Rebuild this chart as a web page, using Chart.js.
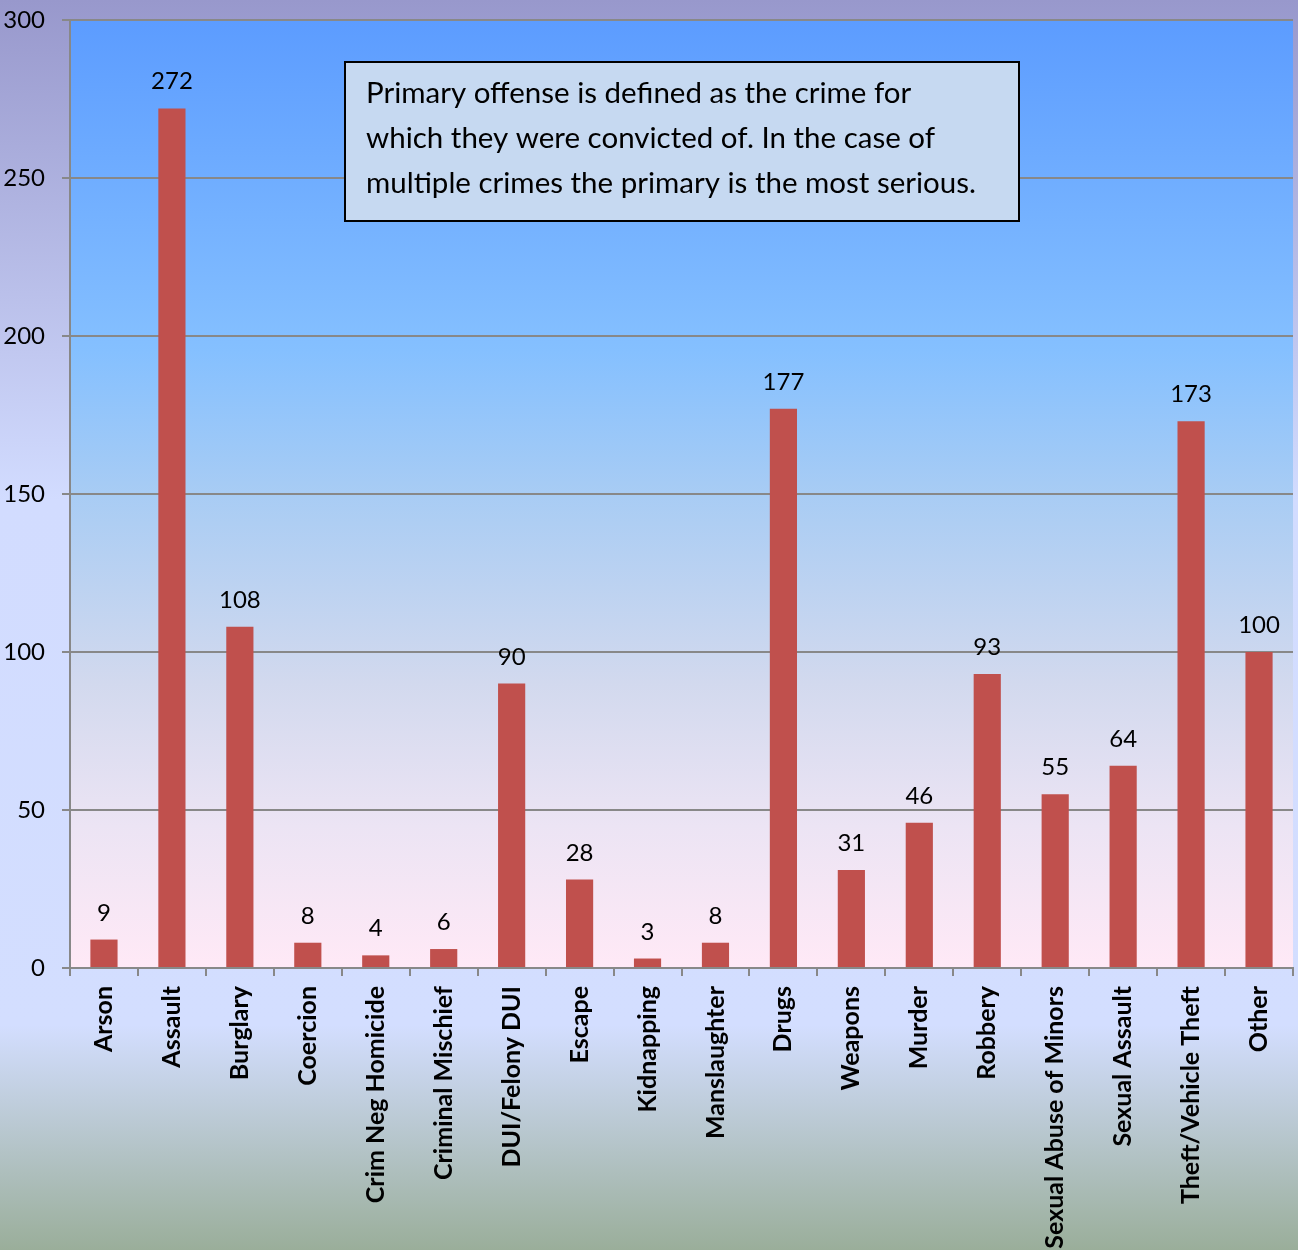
<!DOCTYPE html>
<html lang="en">
<head>
<meta charset="UTF-8">
<title>Primary Offense</title>
<script src="https://cdn.jsdelivr.net/npm/chart.js"></script>
<style>
    html, body { margin: 0; padding: 0; }
    #wrap { width: 1298px; height: 1250px; position: relative; }
</style>
</head>
<body>
<div id="wrap"><canvas id="offenseChart"></canvas></div>
<script>
    // data
    const offenses = ['Arson', 'Assault', 'Burglary', 'Coercion', 'Crim Neg Homicide', 'Criminal Mischief',
        'DUI/Felony DUI', 'Escape', 'Kidnapping', 'Manslaughter', 'Drugs', 'Weapons', 'Murder', 'Robbery',
        'Sexual Abuse of Minors', 'Sexual Assault', 'Theft/Vehicle Theft', 'Other'];
    const counts = [9, 272, 108, 8, 4, 6, 90, 28, 3, 8, 177, 31, 46, 93, 55, 64, 173, 100];
    const noteLines = [
        'Primary offense is defined as the crime for',
        'which they were convicted of. In the case of',
        'multiple crimes the primary is the most serious.'
    ];

    const FONT = 'Lato, "Open Sans", sans-serif';

    // backgrounds: whole picture + plot area
    const backgrounds = {
        id: 'backgrounds',
        beforeDraw(chart) {
            const { ctx, width, height, chartArea: a } = chart;
            ctx.save();
            let g = ctx.createLinearGradient(0, 0, 0, height);
            g.addColorStop(0, '#9898cc');
            g.addColorStop(0.4, '#d2dcff');
            g.addColorStop(0.82, '#d3deff');
            g.addColorStop(1, '#9aae9a');
            ctx.fillStyle = g;
            ctx.fillRect(0, 0, width, height);

            g = ctx.createLinearGradient(0, a.top, 0, a.bottom);
            g.addColorStop(0, '#5c9cff');
            g.addColorStop(0.35, '#85c0ff');
            g.addColorStop(0.5, '#a8ccf4');
            g.addColorStop(0.7, '#d2d9ee');
            g.addColorStop(0.85, '#ece4f4');
            g.addColorStop(1, '#ffe9f6');
            ctx.fillStyle = g;
            ctx.fillRect(a.left, a.top, a.right - a.left, a.bottom - a.top);
            ctx.restore();
        }
    };

    // value labels above bars
    const valueLabels = {
        id: 'valueLabels',
        afterDatasetsDraw(chart) {
            const { ctx } = chart;
            const meta = chart.getDatasetMeta(0);
            ctx.save();
            ctx.font = '24px ' + FONT;
            ctx.fillStyle = '#000';
            ctx.textAlign = 'center';
            ctx.textBaseline = 'alphabetic';
            meta.data.forEach((bar, i) => {
                ctx.fillText(String(counts[i]), bar.x, bar.y - 19);
            });
            ctx.restore();
        }
    };

    // text box
    const noteBox = {
        id: 'noteBox',
        afterDraw(chart) {
            const { ctx } = chart;
            ctx.save();
            ctx.fillStyle = '#c6d9f1';
            ctx.fillRect(345, 62, 674, 159);
            ctx.strokeStyle = '#000';
            ctx.lineWidth = 2;
            ctx.strokeRect(345, 62, 674, 159);
            ctx.font = '29.5px ' + FONT;
            ctx.fillStyle = '#000';
            ctx.textAlign = 'left';
            noteLines.forEach((line, i) => {
                ctx.fillText(line, 366, 103 + i * 45);
            });
            ctx.restore();
        }
    };

    new Chart(document.getElementById('offenseChart'), {
        type: 'bar',
        data: {
            labels: offenses,
            datasets: [{
                data: counts,
                backgroundColor: '#c0504d',
                borderColor: '#c0504d',
                borderWidth: 0,
                barPercentage: 0.4,
                categoryPercentage: 1
            }]
        },
        options: {
            responsive: true,
            maintainAspectRatio: false,
            animation: false,
            layout: { padding: { top: 20, right: 5, left: 0, bottom: 0 } },
            plugins: {
                legend: { display: false },
                tooltip: { enabled: false }
            },
            scales: {
                x: {
                    grid: {
                        offset: true,
                        drawOnChartArea: false,
                        drawTicks: true,
                        tickLength: 8,
                        color: '#888',
                        lineWidth: 2
                    },
                    border: { color: '#888', width: 2 },
                    ticks: {
                        autoSkip: false,
                        minRotation: 90,
                        maxRotation: 90,
                        padding: 10,
                        color: '#000',
                        font: { family: FONT, size: 25, weight: 'bold' }
                    },
                    afterFit(scale) {
                        scale.height = 282;
                        scale.paddingLeft = 0;
                        scale.paddingRight = 0;
                    }
                },
                y: {
                    min: 0,
                    max: 300,
                    ticks: {
                        stepSize: 50,
                        padding: 17,
                        color: '#000',
                        font: { family: FONT, size: 24 }
                    },
                    grid: {
                        color: '#888',
                        lineWidth: 2,
                        tickLength: 8
                    },
                    border: { color: '#888', width: 2 },
                    afterFit(scale) {
                        scale.width = 70;
                        scale.paddingTop = 0;
                        scale.paddingBottom = 0;
                    }
                }
            }
        },
        plugins: [backgrounds, valueLabels, noteBox]
    });
</script>
</body>
</html>
